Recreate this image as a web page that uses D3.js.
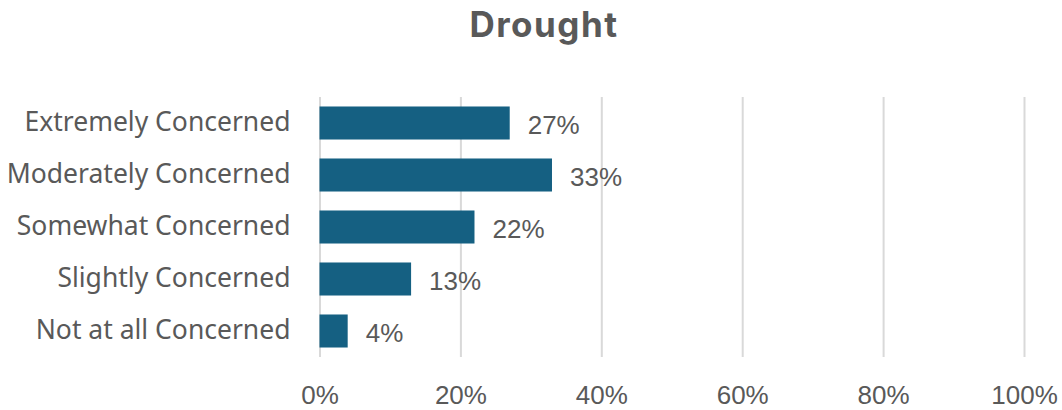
<!DOCTYPE html>
<html>
<head>
<meta charset="utf-8">
<script src="https://cdn.jsdelivr.net/npm/d3@7"></script>
<style>
  html, body { margin: 0; padding: 0; background: #ffffff; }
  svg { display: block; }
</style>
</head>
<body>
<svg id="chart" width="1062" height="410"></svg>
<script>
// Share of respondents by level of concern about drought
const categories = [
  "Extremely Concerned",
  "Moderately Concerned",
  "Somewhat Concerned",
  "Slightly Concerned",
  "Not at all Concerned"
];
const values = [0.27, 0.33, 0.22, 0.13, 0.04];
const tickValues = [0, 0.2, 0.4, 0.6, 0.8, 1.0];
const title = "Drought";

const svg = d3.select("#chart");
const W = 1062, H = 410;
const margin = { top: 97, right: 38, bottom: 53, left: 319.5 };
const plotW = W - margin.left - margin.right;
const plotH = H - margin.top - margin.bottom;

const textColor = "#595959";
const gridColor = "#D9D9D9";
const barColor = "#156082";

const x = d3.scaleLinear().domain([0, 1]).range([0, plotW]);
const y = d3.scaleBand().domain(categories).range([0, plotH])
  .paddingInner(0.365).paddingOuter(0.1825);

const g = svg.append("g").attr("transform", `translate(${margin.left},${margin.top})`);

// Vertical gridlines
const grid = g.append("g")
  .attr("transform", `translate(0,${plotH})`)
  .call(d3.axisBottom(x).tickValues(tickValues).tickSize(-plotH).tickFormat(""));
grid.select(".domain").remove();
grid.selectAll(".tick line").attr("stroke", gridColor).attr("stroke-width", 2);

// Percentage tick labels
const xAxis = g.append("g")
  .attr("transform", `translate(0,${plotH})`)
  .call(d3.axisBottom(x).tickValues(tickValues).tickSize(0).tickPadding(29)
    .tickFormat(d3.format(".0%")));
xAxis.select(".domain").remove();
xAxis.selectAll("text")
  .attr("fill", textColor)
  .style("font-family", "'Liberation Sans', Arial, sans-serif")
  .style("font-size", "26px");

// Category labels
const yAxis = g.append("g")
  .call(d3.axisLeft(y).tickSize(0).tickPadding(29));
yAxis.select(".domain").remove();
yAxis.selectAll("text")
  .attr("fill", textColor)
  .style("font-family", "'Noto Sans', 'Open Sans', sans-serif")
  .style("font-size", "26.5px");

// Bars
g.selectAll("rect.bar")
  .data(values)
  .join("rect")
  .attr("class", "bar")
  .attr("x", x(0))
  .attr("y", (d, i) => y(categories[i]))
  .attr("width", d => x(d) - x(0))
  .attr("height", y.bandwidth())
  .attr("fill", barColor);

// Value labels
g.selectAll("text.value")
  .data(values)
  .join("text")
  .attr("class", "value")
  .attr("x", d => x(d) + 18)
  .attr("y", (d, i) => y(categories[i]) + y.bandwidth() / 2 + 2)
  .attr("dominant-baseline", "central")
  .attr("fill", textColor)
  .style("font-family", "'Liberation Sans', Arial, sans-serif")
  .style("font-size", "26px")
  .text(d => d3.format(".0%")(d));

// Title
svg.append("text")
  .attr("x", 544)
  .attr("y", 37)
  .attr("text-anchor", "middle")
  .attr("fill", textColor)
  .style("font-family", "Inter, 'Open Sans', sans-serif")
  .style("font-weight", "bold")
  .style("font-size", "35px")
  .style("letter-spacing", "1.5px")
  .text(title);
</script>
</body>
</html>
